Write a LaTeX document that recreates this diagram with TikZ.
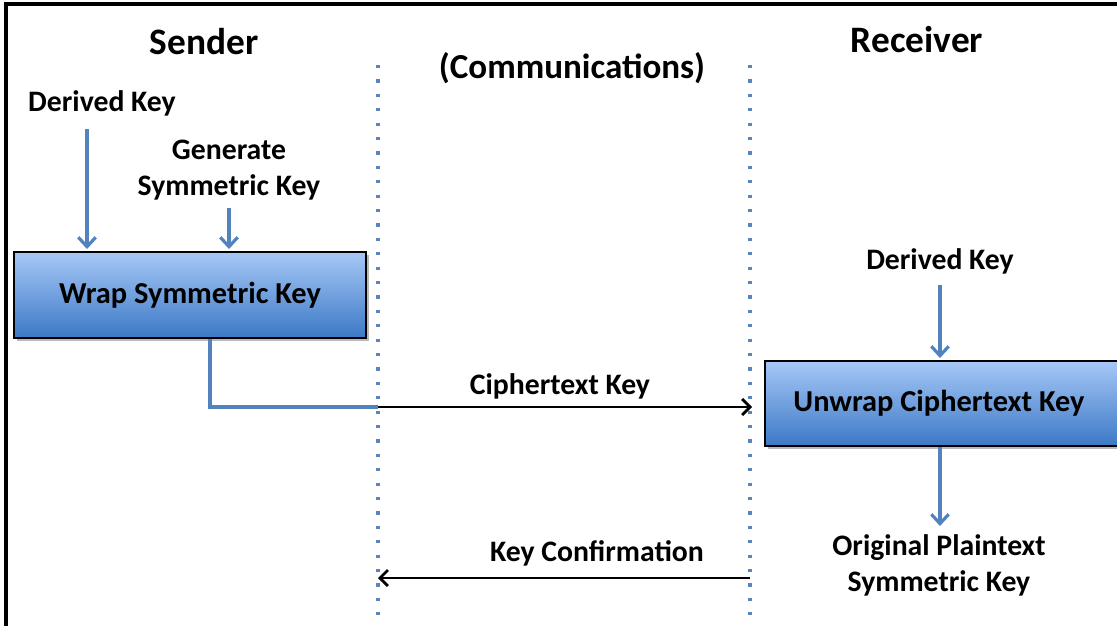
\documentclass[tikz,border=0pt]{standalone}
\usepackage{fontspec}
\setmainfont{Carlito}
\usetikzlibrary{arrows.meta,shadows,calc}
\definecolor{arrblue}{HTML}{5383BE}
\definecolor{dotblue}{HTML}{5B84BE}
\definecolor{boxtop}{HTML}{A6C8F6}
\definecolor{boxbot}{HTML}{3C78C6}
\tikzset{
  hdr/.style={font=\bfseries\fontsize{28}{31}\selectfont, inner sep=0pt},
  lbl/.style={font=\bfseries\fontsize{22.3}{27}\selectfont, inner sep=0pt, align=center},
  boxnode/.style={draw=black, line width=1.5pt, top color=boxtop, bottom color=boxbot,
     font=\bfseries\fontsize{22.8}{26}\selectfont, inner sep=0pt,
     drop shadow={shadow xshift=2pt, shadow yshift=-2pt, fill=black!45, opacity=0.6}},
  barrow/.style={draw=arrblue, line width=2.4pt, -{Straight Barb[length=7pt,width=13pt,line width=2.4pt]}},
  bline/.style={draw=arrblue, line width=2.4pt},
  karrow/.style={draw=black, line width=2pt, -{Straight Barb[length=6pt,width=12pt,line width=2pt]}},
  dotline/.style={draw=dotblue, line width=2.4pt, dash pattern=on 2.4pt off 8.4pt},
}
\begin{document}
\begin{tikzpicture}[x=0.75pt,y=-0.75pt]
\useasboundingbox (0,0) rectangle (1117,625);
\clip (0,0) rectangle (1117,625);
\fill[white] (0,0) rectangle (1117,625);
% frame
\draw[line width=2.4pt] (6,627) -- (6,4) -- (1120,4);
% headers
\node[hdr] (sender) at (204,42) {Sender};
\node[hdr] (receiver) at (917,40) {Receiver};
\node[hdr, font=\bfseries\fontsize{26.3}{30}\selectfont] (comm) at (572,68) {(Communications)};
% dotted lines
\coordinate (d1t) at (378,65);
\coordinate (d1b) at (378,615);
\coordinate (d2t) at (750,65);
\coordinate (d2b) at (750,615);
\draw[dotline] (d1t) -- (d1b);
\draw[dotline] (d2t) -- (d2b);
% boxes
\node[boxnode, minimum width=352*0.75pt, minimum height=86*0.75pt] (wrap) at (190,295) {Wrap Symmetric Key};
\node[boxnode, minimum width=356*0.75pt, minimum height=85*0.75pt] (unwrap) at (943,403.5) {\hspace*{-6pt}Unwrap Ciphertext Key};
% labels
\node[lbl] (dk1) at (102,103) {Derived Key};
\node[lbl] (gen) at (229,170) {Generate\\Symmetric Key};
\node[lbl] (dk2) at (940,261) {Derived Key};
\node[lbl] (orig) at (939,565) {Original Plaintext\\Symmetric Key};
\node[lbl] (ctk) at (560,386) {Ciphertext Key};
\node[lbl] (kc) at (597,553) {Key Confirmation};
% sender arrows
\coordinate (xa) at (87,0);
\coordinate (xw) at (210,0);
\draw[barrow] ([yshift=-10pt]dk1.south -| xa) -- ([yshift=1.5pt]wrap.north -| xa);
\draw[barrow] ([yshift=-6pt]gen.south) -- ([yshift=1.5pt]wrap.north -| gen.south);
% ciphertext path
\coordinate (c1) at (378,407);
\coordinate (c2) at (752,407);
\draw[bline] (wrap.south -| xw) -- (c1 -| xw) -- (c1);
\draw[karrow] (c1) -- (c2);
% receiver arrows
\draw[barrow] ([yshift=-8pt]dk2.south) -- ([yshift=1.5pt]unwrap.north -| dk2.south);
\draw[barrow] (unwrap.south -| dk2.south) -- ([yshift=6pt]orig.north -| dk2.south);
% key confirmation
\coordinate (k1) at (750,578);
\coordinate (k2) at (378,578);
\draw[karrow] (k1) -- (k2);
\end{tikzpicture}
\end{document}
